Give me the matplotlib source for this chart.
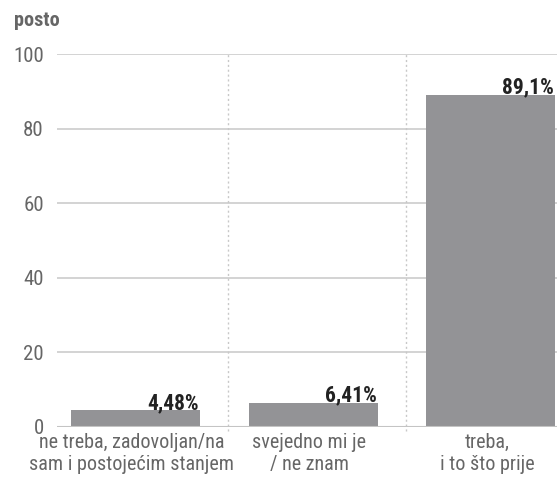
import matplotlib
matplotlib.use("Agg")
import matplotlib.pyplot as plt
from matplotlib import font_manager

categories = ["ne treba, zadovoljan/na\nsam i postojećim stanjem",
              "svejedno mi je\n/ ne znam",
              "treba,\ni to što prije"]
values = [4.48, 6.41, 89.1]
value_labels = ["4,48%", "6,41%", "89,1%"]
yticks = [0, 20, 40, 60, 80, 100]

names = {f.name for f in font_manager.fontManager.ttflist}
fam = "Liberation Sans"
for cand in ["Roboto Condensed", "Liberation Sans Narrow", "Open Sans Condensed",
             "Arial Narrow"]:
    if cand in names:
        fam = cand
        break
plt.rcParams['font.family'] = [fam, 'DejaVu Sans']

W, H = 557, 478
fig = plt.figure(figsize=(W/100, H/100), dpi=100)
left, right, top, bottom = 57, 557, 54, 427
ax = fig.add_axes([left/W, 1-bottom/H, (right-left)/W, (bottom-top)/H])

c0, step = 135.5, 177.5
ax.set_xlim((left - c0)/step, (right - c0)/step)
ax.set_ylim(0, 100)

for t in yticks[1:]:
    ax.axhline(t, color="#d0d0d0", lw=1.3, zorder=0)
ax.axhline(0, color="#c4c4c4", lw=1.5, zorder=3)

bw = 129/step
xs = list(range(len(categories)))
ax.bar(xs, values, width=bw, color="#939396", zorder=2)

for px in (228, 405.5):
    xd = (px - c0)/step
    ax.plot([xd, xd], [-1.2, 100], color="#c8c8c8",
            lw=1, ls=(0, (1.5, 2)), clip_on=False, zorder=1)

for x, v, lab in zip(xs, values, value_labels):
    ax.annotate(lab, (x + bw/2 - 0.006, v), xytext=(0, 1), textcoords="offset points",
                ha="right", va="baseline", fontsize=15.5,
                fontweight="bold", color="#222222", zorder=4)

for s in ax.spines.values():
    s.set_visible(False)
ax.set_yticks(yticks)
ax.set_yticklabels([str(t) for t in yticks], fontsize=15, color="#666666")
ax.tick_params(axis="y", length=0, pad=9.5)
ax.set_xticks([x - 0.02 for x in xs])
ax.set_xticklabels(categories, fontsize=14.5, color="#666666", linespacing=1.25)
ax.tick_params(axis="x", length=0, pad=4)

fig.text(14/W, 1-26/H, "posto", fontsize=14.5, fontweight="bold", color="#666666",
         ha="left", va="baseline")

fig.savefig("out.png", dpi=100)
